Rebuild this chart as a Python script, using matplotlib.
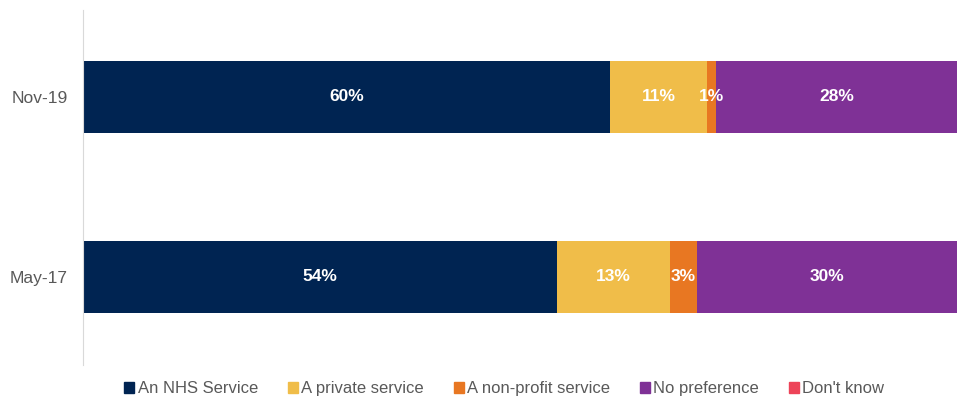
import numpy as np
import matplotlib.pyplot as plt
from matplotlib.patches import Patch

# data
periods = ["May-17", "Nov-19"]
series = ["An NHS Service", "A private service", "A non-profit service",
          "No preference", "Don't know"]
nhs = [54.2, 60.3]
private = [13.0, 11.1]
nonprofit = [3.0, 1.0]
nopref = [29.8, 27.6]
dontknow = [0, 0]
colors = ["#002452", "#F0BD49", "#E87722", "#7F3196", "#ED4358"]

values = [nhs, private, nonprofit, nopref, dontknow]

fig = plt.figure(figsize=(9.57, 4.03), dpi=100)
ax = fig.add_axes([83 / 957, 38 / 403, 874 / 957, 355 / 403])

y = np.arange(len(periods))
left = np.zeros(len(periods))
for name, vals, c in zip(series, values, colors):
    vals = np.array(vals, dtype=float)
    ax.barh(y, vals, left=left, height=0.4, color=c, label=name)
    for yi, (l, v) in enumerate(zip(left, vals)):
        if v > 0:
            ax.text(l + v / 2, yi, f"{v:.0f}%", ha="center", va="center",
                    color="white", fontsize=12.5, fontweight="bold",
                    family="Liberation Sans")
    left += vals

ax.set_xlim(0, 100)
ax.set_ylim(-0.49, 1.483)
ax.set_yticks(y)
ax.set_yticklabels(periods, fontsize=12.5, color="#595959", family="Liberation Sans")
ax.tick_params(axis="y", length=0, pad=11)
ax.set_xticks([])
for s in ["top", "right", "bottom"]:
    ax.spines[s].set_visible(False)
ax.spines["left"].set_color("#d9d9d9")

handles = [Patch(color=c, label=s) for s, c in zip(series, colors)]
leg = fig.legend(handles=handles, loc="center", bbox_to_anchor=(0.527, 0.035),
                 ncol=5, frameon=False, handlelength=0.6, handleheight=0.6,
                 handletextpad=0.2, columnspacing=1.8,
                 prop={"family": "Liberation Sans", "size": 12})
for t in leg.get_texts():
    t.set_color("#595959")

plt.savefig("out.png", dpi=100)
